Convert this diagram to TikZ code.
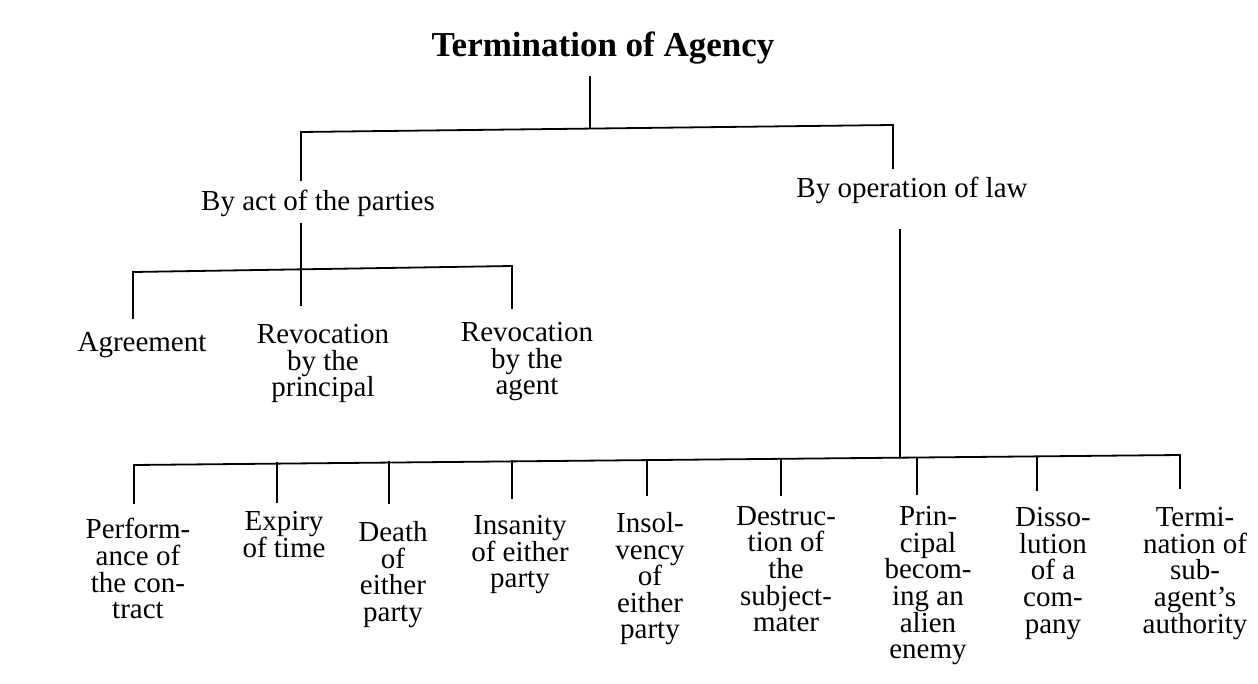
\documentclass[tikz,border=0pt]{standalone}
\usepackage{fontspec}
\setmainfont{Liberation Serif}
\begin{document}
\begin{tikzpicture}[x=0.5pt,y=-0.5pt,
  lbl/.style={inner sep=0pt, align=center, font=\fontsize{14.5}{13.3}\selectfont,
    execute at begin node={\lineskiplimit=-20pt}},
  ttl/.style={inner sep=0pt, font=\fontsize{17.5}{20}\selectfont\bfseries},
  link/.style={line width=0.9pt, line cap=rect}]
\useasboundingbox (0,0) rectangle (1258,684);
\fill[white] (0,0) rectangle (1258,684);

% title
\node[ttl, anchor=base] (root) at (603,57) {Termination of Agency};

% level 1
\node[lbl, anchor=base] (act) at (318,211) {By act of the parties};
\node[lbl, anchor=base] (law) at (912,198) {By operation of law};

\coordinate (r0) at (590,77);
\coordinate (r1) at (590,128);
\coordinate (hL) at (301,132);
\coordinate (hR) at (893,125);
\coordinate (aT) at (301,180);
\coordinate (lT) at (893,168);
\draw[link] (r0) -- (r1);
\draw[link] (hL) -- (hR);
\draw[link] (hL) -- (aT);
\draw[link] (hR) -- (lT);

% level 2 left
\node[lbl, anchor=base] (agr) at (142,351) {Agreement};
\node[lbl, anchor=north] (revp) at (323,324) {Revocation\\by the\\principal};
\node[lbl, anchor=north] (reva) at (527,322) {Revocation\\by the\\agent};

\coordinate (a0) at (301,224);
\coordinate (a1) at (301,269);
\coordinate (aL) at (133,272);
\coordinate (aR) at (512,266);
\coordinate (agrT) at (133,318);
\coordinate (revpT) at (301,305);
\coordinate (revaT) at (512,308);
\draw[link] (a0) -- (a1);
\draw[link] (aL) -- (aR);
\draw[link] (aL) -- (agrT);
\draw[link] (a1) -- (revpT);
\draw[link] (aR) -- (revaT);

% level 2 right
\coordinate (b0) at (900,230);
\coordinate (b1) at (900,457);
\coordinate (bL) at (134,465);
\coordinate (bR) at (1180,455);
\draw[link] (b0) -- (b1);
\draw[link] (bL) -- (bR);

\node[lbl, anchor=north] (perf) at (138,518) {Perform-\\ance of\\the con-\\tract};
\node[lbl, anchor=north] (expi) at (284,511) {Expiry\\of time};
\node[lbl, anchor=north] (deat) at (393,521) {Death\\of\\either\\party};
\node[lbl, anchor=north] (insa) at (520,515) {Insanity\\of either\\party};
\node[lbl, anchor=north] (inso) at (650,512) {Insol-\\vency\\of\\either\\party};
\node[lbl, anchor=north] (dest) at (786,506) {Destruc-\\tion of\\the\\subject-\\mater};
\node[lbl, anchor=north] (prin) at (928,506) {Prin-\\cipal\\becom-\\ing an\\alien\\enemy};
\node[lbl, anchor=north] (diss) at (1053,507) {Disso-\\lution\\of a\\com-\\pany};
\node[lbl, anchor=north] (term) at (1195,507) {Termi-\\nation of\\sub-\\agent's\\authority};

\foreach \n/\x/\ya/\yb in {p1/134/465/503, p2/277/463/502, p3/389/462/503, p4/512/461/498,
  p5/647/460/495, p6/781/459/495, p7/917/458/494, p8/1037/457/490, p9/1180/455/488}{
  \coordinate (\n a) at (\x,\ya);
  \coordinate (\n b) at (\x,\yb);
  \draw[link] (\n a) -- (\n b);
}
\end{tikzpicture}
\end{document}
